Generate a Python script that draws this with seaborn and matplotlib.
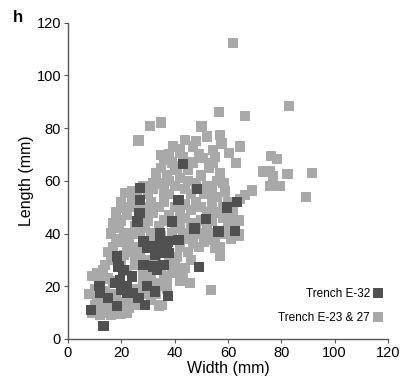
import matplotlib
matplotlib.use("Agg")
import matplotlib.pyplot as plt
import seaborn as sns
import pandas as pd
from matplotlib.lines import Line2D

# Trench E-32 (dark)
e32_width = [13.3, 8.5, 18.5, 28.8, 37.6, 15.1, 11.8, 12.0, 26.4, 32.6, 29.5, 18.3, 18.9, 19.5,
             20.1, 22.0, 23.9, 20.8, 17.6, 24.5, 22.0, 28.3, 32.0, 33.3, 35.8, 28.3, 29.5, 32.6,
             35.8, 37.0, 34.5, 38.9, 37.6, 41.4, 26.8, 26.1, 27.0, 27.0, 41.4, 43.0, 48.5, 51.8,
             47.4, 56.4, 59.5, 63.5, 62.6, 49.1, 38.0, 35.8, 34.5, 32.0]
e32_length = [4.8, 11.1, 12.4, 13.0, 16.2, 15.5, 20.0, 17.4, 15.5, 18.0, 20.0, 31.3, 27.5, 22.5,
              18.7, 20.0, 23.7, 26.3, 21.2, 17.4, 17.4, 28.2, 27.5, 26.3, 28.2, 37.0, 34.5, 32.0,
              32.6, 35.7, 40.2, 44.6, 37.0, 37.6, 47.7, 44.6, 52.8, 57.2, 52.8, 66.4, 57.0, 45.6,
              41.9, 40.8, 49.9, 51.9, 41.0, 27.3, 32.6, 35.1, 37.6, 35.1]

# Trench E-23 & 27 (light)
e23_width = [61.8, 82.8, 56.6, 66.4, 50.1, 52.0, 30.8, 34.8, 26.4, 57.0, 57.6, 64.5, 43.9, 47.0,
             39.3, 42.0, 35.1, 54.5, 60.5, 63.0, 50.4, 54.5, 57.0, 58.3, 75.8, 73.3, 76.8, 76.0,
             78.3, 82.3, 91.6, 89.3, 75.8, 79.3, 68.9, 66.4, 64.5, 63.9, 57.0, 53.5, 45.8, 43.0,
             35.1, 32.0, 21.4, 23.9, 20.8, 43.9, 40.0, 55.0, 53.0,
             9, 10, 12, 14, 16, 18, 20, 22, 23, 11, 13, 15, 17, 19, 21, 24, 26, 10, 12, 14, 16, 18,
             8, 9, 11, 13, 15, 17, 25, 27, 29, 31, 30, 33, 35, 36, 34,
             14, 16, 15, 17, 18, 16, 19, 17, 20, 18, 21, 23, 22, 24, 25, 26, 28, 27, 29, 31, 33,
             26, 24, 25, 22, 23, 20, 24, 26, 28, 30, 29, 31, 32, 30, 34, 36, 38, 39, 40, 41, 42,
             40, 42, 37, 44, 46, 45, 44, 47, 49, 51, 53, 55, 57, 59, 60, 62, 58, 56, 54, 52, 50,
             48, 46, 44, 42, 40, 38, 36, 34, 32, 34, 36, 38, 40, 42, 44, 46, 48, 50, 52, 54, 56,
             58, 60, 62, 64, 64, 61, 30, 32, 34, 36, 38, 40, 42, 44, 46, 48, 50, 52, 54, 56, 33,
             35, 37, 39, 41, 43, 45, 47, 49, 53, 55, 28, 26, 19, 21, 20, 22, 24, 28, 31, 35, 37,
             33, 39, 43, 47, 35, 27, 29, 31, 50, 45, 51, 59, 36, 42, 48, 38]
e23_length = [112.4, 88.4, 86.2, 84.6, 80.6, 76.8, 80.9, 82.1, 75.3, 77.5, 74.2, 73.0, 75.5, 73.0,
              73.0, 70.5, 69.8, 71.7, 70.5, 66.7, 68.6, 66.7, 62.9, 59.3, 63.5, 63.5, 61.6, 69.4,
              68.2, 62.6, 63.1, 54.0, 58.0, 58.0, 56.3, 54.7, 53.0, 39.8, 31.7, 18.7, 21.2, 24.7,
              13.0, 59.0, 55.3, 56.0, 49.6, 67.2, 65.4, 34.5, 37.6,
              10, 13, 9, 10, 9, 10, 9.5, 10, 12, 16, 14, 12, 13, 14, 14, 14, 13, 19, 22, 18, 17,
              16, 17, 24, 25, 26, 23, 22, 19, 18, 17, 15, 22, 21, 20, 24, 12.5,
              28, 30, 33, 35, 38, 40, 42, 44, 45, 48, 40, 38, 35, 33, 30, 28, 26, 32, 30, 29, 31,
              35, 40, 43, 47, 50, 52, 54, 50, 48, 45, 42, 40, 38, 35, 36, 33, 30, 27, 29, 31, 35,
              25, 22, 23, 27, 30, 33, 38, 36, 35, 37, 40, 38, 35, 40, 43, 44, 46, 48, 45, 42, 40,
              42, 44, 46, 42, 44, 47, 45, 43, 48, 50, 52, 55, 50, 48, 51, 49, 52, 50, 48, 52, 54,
              50, 52, 48, 45, 39, 38, 55, 57, 59, 56, 60, 58, 61, 57, 55, 59, 62, 58, 56, 60, 63,
              65, 62, 67, 64, 69, 64, 67, 70, 65, 69, 58, 55, 37, 32, 28, 26, 24, 22, 25, 27, 19,
              17, 40, 40, 40, 39, 40, 50, 52, 45, 60, 55, 56, 68, 72, 75, 70]

df = pd.concat([
    pd.DataFrame({"Width": e23_width, "Length": e23_length, "group": "Trench E-23 & 27"}),
    pd.DataFrame({"Width": e32_width, "Length": e32_length, "group": "Trench E-32"}),
], ignore_index=True)

sns.set_style("white")
plt.rcParams["font.family"] = ["Liberation Sans", "DejaVu Sans"]
plt.rcParams["text.color"] = "black"
plt.rcParams["axes.labelcolor"] = "black"
plt.rcParams["xtick.color"] = "black"
plt.rcParams["ytick.color"] = "black"

fig = plt.figure(figsize=(4.03, 3.81), dpi=100)
ax = fig.add_axes([68 / 403, 1 - 339 / 381, 320 / 403, 316.3 / 381])

palette = {"Trench E-32": "#505050", "Trench E-23 & 27": "#a9a9a9"}
sns.scatterplot(data=df, x="Width", y="Length", hue="group", palette=palette,
                hue_order=["Trench E-23 & 27", "Trench E-32"],
                marker="s", s=55, linewidth=0, alpha=1, ax=ax, legend=False)

ax.set_xlim(0, 120)
ax.set_ylim(0, 120)
ax.set_xticks([0, 20, 40, 60, 80, 100, 120])
ax.set_yticks([0, 20, 40, 60, 80, 100, 120])
ax.set_xlabel("Width (mm)", fontsize=11.5, labelpad=1)
ax.set_ylabel("Length (mm)", fontsize=11.5, labelpad=2)
ax.tick_params(axis="both", labelsize=10.5, length=3, width=0.8, color="#555555",
               direction="out", pad=2, bottom=True, left=True, labelcolor="black")
for side in ["top", "right"]:
    ax.spines[side].set_visible(False)
for side in ["left", "bottom"]:
    ax.spines[side].set_color("#555555")
    ax.spines[side].set_linewidth(1.0)

handles = [Line2D([], [], marker="s", linestyle="none", markersize=7.5,
                  markerfacecolor=palette[g], markeredgewidth=0, label=g)
           for g in ["Trench E-32", "Trench E-23 & 27"]]
ax.legend(handles=handles, loc="lower right", bbox_to_anchor=(1.01, 0.025), frameon=False,
          markerfirst=False, fontsize=8.5, handletextpad=0.2, labelspacing=1.0,
          handlelength=1.0, borderaxespad=0.2)

fig.text(13 / 403, 1 - 17 / 381, "h", fontsize=12, fontweight="bold", va="center", ha="left")

fig.savefig("out.png", dpi=100)
